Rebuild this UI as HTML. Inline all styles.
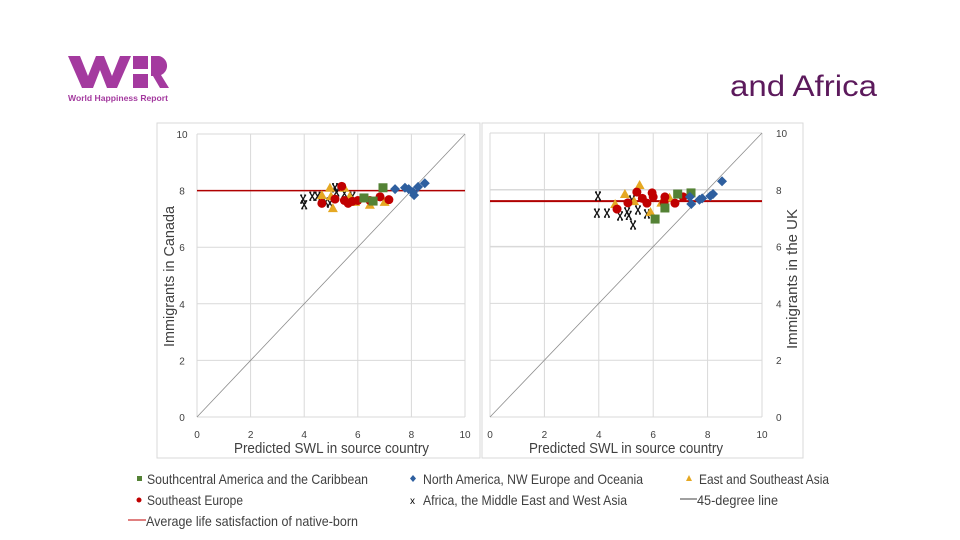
<!DOCTYPE html>
<html><head><meta charset="utf-8">
<style>
body{margin:0;width:960px;height:540px;background:#fff;overflow:hidden;font-family:"Liberation Sans",sans-serif;}
svg{position:absolute;left:0;top:0}
.t{font-family:"Liberation Sans",sans-serif;fill:#404040}
</style></head>
<body>
<svg id="s" width="960" height="540">
  <g>
    <polygon points="68,56 80,56 88,76 96,56 104,56 112,76 120,56 131,56 117,88 107,88 100,70 93,88 82,88" fill="#a43a9f"/>
    <rect x="133" y="56" width="15" height="13" fill="#a43a9f"/>
    <rect x="133" y="74" width="15" height="14" fill="#a43a9f"/>
    <path d="M151,56 h8 a10,10 0 0 1 2,19 l8,13 h-9 l-7,-12 h-2 v12 h-0 z" fill="#a43a9f"/>
    <text x="68" y="101" font-size="8.5" font-weight="bold" fill="#a43a9f" textLength="100" lengthAdjust="spacingAndGlyphs">World Happiness Report</text>
  </g>
  <text x="730" y="96" font-size="30" fill="#5c1a5c" textLength="147" lengthAdjust="spacingAndGlyphs">and Africa</text>
  <rect x="157" y="123" width="323" height="335" fill="none" stroke="#d9d9d9"/>
  <rect x="482" y="123" width="321" height="335" fill="none" stroke="#d9d9d9"/>
  <text class="t" x="234" y="453" font-size="15" textLength="195" lengthAdjust="spacingAndGlyphs">Predicted SWL in source country</text>
  <text class="t" x="529" y="453" font-size="15" textLength="194" lengthAdjust="spacingAndGlyphs">Predicted SWL in source country</text>
  <text class="t" transform="translate(174,347) rotate(-90)" font-size="15" textLength="141" lengthAdjust="spacingAndGlyphs">Immigrants in Canada</text>
  <text class="t" transform="translate(797,349) rotate(-90)" font-size="15" textLength="140" lengthAdjust="spacingAndGlyphs">Immigrants in the UK</text>
  <g id="legend" font-size="14">
    <rect x="137" y="476" width="5" height="5" fill="#548235"/>
    <text class="t" x="147" y="484" textLength="221" lengthAdjust="spacingAndGlyphs">Southcentral America and the Caribbean</text>
    <polygon points="413,475 416,478.5 413,482 410,478.5" fill="#2e5f9f"/>
    <text class="t" x="423" y="484" textLength="220" lengthAdjust="spacingAndGlyphs">North America, NW Europe and Oceania</text>
    <polygon points="689,475 692,481 686,481" fill="#e5a823"/>
    <text class="t" x="699" y="484" textLength="130" lengthAdjust="spacingAndGlyphs">East and Southeast Asia</text>
    <circle cx="139" cy="500" r="2.5" fill="#c00000"/>
    <text class="t" x="147" y="505" textLength="96" lengthAdjust="spacingAndGlyphs">Southeast Europe</text>
    <text x="410" y="504" font-size="10" fill="#000">x</text>
    <text class="t" x="423" y="505" textLength="204" lengthAdjust="spacingAndGlyphs">Africa, the Middle East and West Asia</text>
    <line x1="680" y1="499" x2="697" y2="499" stroke="#404040"/>
    <text class="t" x="697" y="505" textLength="81" lengthAdjust="spacingAndGlyphs">45-degree line</text>
    <line x1="128" y1="520" x2="146" y2="520" stroke="#c00000"/>
    <text class="t" x="146" y="526" textLength="212" lengthAdjust="spacingAndGlyphs">Average life satisfaction of native-born</text>
  </g>
</svg>
<script>
// ---- data ----
const xTicks=[0,2,4,6,8,10];
const yTicks=[0,2,4,6,8,10];
const canAvg=8.0;
const ukAvg=7.6;
const canSouthX=[6.94,6.23,6.57];
const canSouthY=[8.1,7.74,7.63];
const canNorthX=[7.39,7.76,7.9,8.06,8.1,8.25,8.5];
const canNorthY=[8.05,8.1,8.05,7.95,7.84,8.13,8.26];
const canEastX=[4.96,5.0,5.07,5.5,5.7,6.45,4.66,5.9,7.0];
const canEastY=[8.1,7.8,7.38,8.1,7.8,7.5,7.84,7.6,7.6];
const canSeX=[5.4,4.66,5.15,5.64,5.8,6.0,6.45,6.83,7.16,5.5];
const canSeY=[8.15,7.55,7.7,7.55,7.62,7.65,7.65,7.78,7.68,7.65];
const canAfX=[3.96,4.0,4.3,4.5,4.8,5.15,5.2,5.5,5.8,4.96];
const canAfY=[7.7,7.5,7.8,7.8,7.6,8.1,7.95,7.9,7.8,7.56];
const ukSouthX=[6.07,6.43,6.9,7.39];
const ukSouthY=[6.97,7.36,7.85,7.89];
const ukNorthX=[7.35,7.4,7.8,8.1,8.2,8.53,7.7];
const ukNorthY=[7.75,7.5,7.7,7.78,7.85,8.3,7.65];
const ukEastX=[4.6,4.96,5.5,5.9,6.6,6.3,5.3];
const ukEastY=[7.5,7.85,8.17,7.22,7.72,7.55,7.6];
const ukSeX=[4.67,5.07,5.4,5.6,5.77,5.96,6.0,6.43,6.8,7.1,6.4];
const ukSeY=[7.32,7.54,7.92,7.7,7.53,7.89,7.75,7.75,7.53,7.75,7.55];
const ukAfX=[3.97,3.93,4.3,4.78,5.04,5.44,5.77,5.26,5.1,5.22];
const ukAfY=[7.78,7.18,7.18,7.08,7.22,7.29,7.15,6.76,7.1,7.64];

const NS='http://www.w3.org/2000/svg';
const svg=document.getElementById('s');
function mk(tag,attrs,parent){const e=document.createElementNS(NS,tag);for(const k in attrs)e.setAttribute(k,attrs[k]);(parent||svg).appendChild(e);return e;}

function chart(cfg){
  const g=mk('g',{});
  
  
  const sx=v=>cfg.x0+(cfg.x1-cfg.x0)*v/10;
  const sy=v=>cfg.y0-(cfg.y0-cfg.y1)*v/10;
  xTicks.forEach(t=>{
    const l=mk('line',{x1:sx(t),x2:sx(t),y1:sy(0),y2:sy(10),stroke:'#d9d9d9'},g);
    
    
    const tx=mk('text',{x:sx(t),y:cfg.y0+21,'font-size':10,'text-anchor':'middle',class:'t'},g);
    tx.textContent=t;
    
    
  });
  yTicks.forEach(t=>{
    const l=mk('line',{x1:sx(0),x2:sx(10),y1:sy(t),y2:sy(t),stroke:'#d9d9d9','stroke-width':(cfg.right&&(t==6||t==8))?1.5:1},g);
    
    
    const tx=mk('text',{x:cfg.right?cfg.x1+14:cfg.x0-15,y:sy(t)+4,'font-size':10,'text-anchor':cfg.right?'start':'middle',class:'t'},g);
    tx.textContent=t;
    
    
  });
  const d=mk('line',{x1:sx(0),y1:sy(0),x2:sx(10),y2:sy(10),stroke:'#8c8c8c','stroke-width':0.8},g);
  
  
  const a=mk('line',{x1:sx(0),y1:sy(cfg.avg),x2:sx(10),y2:sy(cfg.avg),stroke:'#b00000','stroke-width':cfg.right?2:1.5},g);
  
  
  cfg.af[0].forEach((v,i)=>{
    const x=sx(v),y=sy(cfg.af[1][i]);
    const p=mk('path',{d:`M${x-2.5},${y-4} L${x+2.5},${y+4} M${x+2.5},${y-4} L${x-2.5},${y+4} M${x-3},${y-4} h2 M${x+1},${y-4} h2 M${x-3},${y+4} h2 M${x+1},${y+4} h2`,stroke:'#111','stroke-width':1.3,fill:'none'},g);
    
    
  });
  cfg.east[0].forEach((v,i)=>{
    const x=sx(v),y=sy(cfg.east[1][i]);
    const p=mk('polygon',{points:`${x},${y-5} ${x+5},${y+4} ${x-5},${y+4}`,fill:'#e5a823'},g);
    
    
  });
  cfg.se[0].forEach((v,i)=>{
    const c=mk('circle',{cx:sx(v),cy:sy(cfg.se[1][i]),r:4.5,fill:'#c00000'},g);
    
    
  });
  cfg.south[0].forEach((v,i)=>{
    const r=mk('rect',{x:sx(v)-4.5,y:sy(cfg.south[1][i])-4.5,width:9,height:9,fill:'#548235'},g);
    
    
  });
  cfg.north[0].forEach((v,i)=>{
    const x=sx(v),y=sy(cfg.north[1][i]);
    const p=mk('polygon',{points:`${x},${y-5} ${x+5},${y} ${x},${y+5} ${x-5},${y}`,fill:'#2e5f9f'},g);
    
    
  });
}
chart({name:'canada-chart',x0:197,x1:465,y0:417,y1:134,avg:canAvg,right:false,
  south:[canSouthX,canSouthY],north:[canNorthX,canNorthY],east:[canEastX,canEastY],se:[canSeX,canSeY],af:[canAfX,canAfY]});
chart({name:'uk-chart',x0:490,x1:762,y0:417,y1:133,avg:ukAvg,right:true,
  south:[ukSouthX,ukSouthY],north:[ukNorthX,ukNorthY],east:[ukEastX,ukEastY],se:[ukSeX,ukSeY],af:[ukAfX,ukAfY]});
</script>
</body></html>
